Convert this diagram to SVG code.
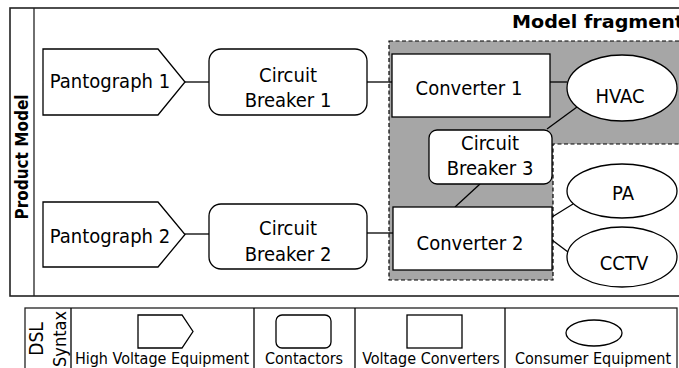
<svg xmlns="http://www.w3.org/2000/svg" width="679" height="368" viewBox="0 0 679 368">
<style>
.t{font-family:"DejaVu Sans Condensed","DejaVu Sans",sans-serif;font-stretch:condensed;font-size:20px;fill:#000;text-anchor:middle}
.b{font-family:"DejaVu Sans Condensed","DejaVu Sans",sans-serif;font-stretch:condensed;font-weight:bold;fill:#000}
.lg{font-family:"DejaVu Sans Condensed","DejaVu Sans",sans-serif;font-stretch:condensed;font-size:16px;fill:#000;text-anchor:middle}
.s{fill:#fff;stroke:#000;stroke-width:1.3}
.c{stroke:#000;stroke-width:1.3;fill:none}
</style>
<rect width="679" height="368" fill="#fff"/>
<g id="frame">
<rect x="10" y="8" width="700" height="288" fill="none" stroke="#222" stroke-width="1.6"/>
<line x1="34" y1="8" x2="34" y2="296" stroke="#222" stroke-width="1.3"/>
<text class="b" font-size="17" transform="translate(28,157) rotate(-90)" text-anchor="middle">Product Model</text>
</g>
<g id="fragment">
<polygon points="389,41 700,41 700,144 553,144 553,280 389,280" fill="#a6a6a6" stroke="#000" stroke-width="1.2" stroke-dasharray="4,2.5"/>
<text class="b" font-size="18" x="512" y="28" textLength="172" lengthAdjust="spacingAndGlyphs">Model fragment</text>
</g>
<g id="connectors">
<line class="c" x1="185" y1="82" x2="209" y2="82"/>
<line class="c" x1="367" y1="82" x2="392" y2="82"/>
<line class="c" x1="550" y1="82" x2="567" y2="82"/>
<line class="c" x1="547" y1="129" x2="577" y2="107"/>
<line class="c" x1="480" y1="184" x2="455" y2="207"/>
<line class="c" x1="185" y1="234" x2="209" y2="234"/>
<line class="c" x1="367" y1="233" x2="393" y2="233"/>
<line class="c" x1="552" y1="217" x2="573" y2="204"/>
<line class="c" x1="552" y1="240" x2="572" y2="255"/>
</g>
<g id="pantograph1">
<polygon class="s" points="43,49 158,49 185,82 158,115 43,115"/>
<text class="t" x="110" y="88">Pantograph 1</text>
</g>
<g id="pantograph2">
<polygon class="s" points="43,202 158,202 185,234.5 158,267 43,267"/>
<text class="t" x="110" y="243">Pantograph 2</text>
</g>
<g id="cb1">
<rect class="s" x="209" y="49" width="158" height="66" rx="12"/>
<text class="t" x="288" y="82">Circuit</text>
<text class="t" x="288" y="107">Breaker 1</text>
</g>
<g id="cb2">
<rect class="s" x="209" y="204" width="158" height="65" rx="12"/>
<text class="t" x="288" y="235">Circuit</text>
<text class="t" x="288" y="261">Breaker 2</text>
</g>
<g id="converter1">
<rect class="s" x="392" y="54" width="158" height="63"/>
<text class="t" x="469" y="95">Converter 1</text>
</g>
<g id="cb3">
<rect class="s" x="429" y="130" width="123" height="54" rx="8"/>
<text class="t" x="490" y="150">Circuit</text>
<text class="t" x="490" y="175">Breaker 3</text>
</g>
<g id="converter2">
<rect class="s" x="393" y="207" width="159" height="63"/>
<text class="t" x="470" y="250">Converter 2</text>
</g>
<g id="hvac">
<ellipse class="s" cx="622" cy="88" rx="55" ry="33"/>
<text class="t" x="620" y="103">HVAC</text>
</g>
<g id="pa">
<ellipse class="s" cx="622" cy="191" rx="55" ry="27"/>
<text class="t" x="623" y="200">PA</text>
</g>
<g id="cctv">
<ellipse class="s" cx="622" cy="257" rx="55" ry="30"/>
<text class="t" x="624" y="270">CCTV</text>
</g>
<g id="legend">
<rect x="25" y="308" width="652" height="80" fill="#fff" stroke="#222" stroke-width="1.3"/>
<line class="c" x1="71" y1="308" x2="71" y2="368"/>
<line class="c" x1="254" y1="308" x2="254" y2="368"/>
<line class="c" x1="355" y1="308" x2="355" y2="368"/>
<line class="c" x1="505" y1="308" x2="505" y2="368"/>
<text class="t" font-size="19" style="font-size:19px" transform="translate(43,339) rotate(-90)">DSL</text>
<text class="t" style="font-size:18px" transform="translate(66,339) rotate(-90)">Syntax</text>
<polygon class="s" points="138,315 182,315 193,331.5 182,348 138,348"/>
<text class="lg" x="162" y="364">High Voltage Equipment</text>
<rect class="s" x="276" y="315" width="55" height="33" rx="6"/>
<text class="lg" x="304" y="364">Contactors</text>
<rect class="s" x="407" y="315" width="55" height="33"/>
<text class="lg" x="431" y="364">Voltage Converters</text>
<ellipse class="s" cx="594" cy="333" rx="28" ry="13"/>
<text class="lg" x="593" y="364">Consumer Equipment</text>
</g>
</svg>
